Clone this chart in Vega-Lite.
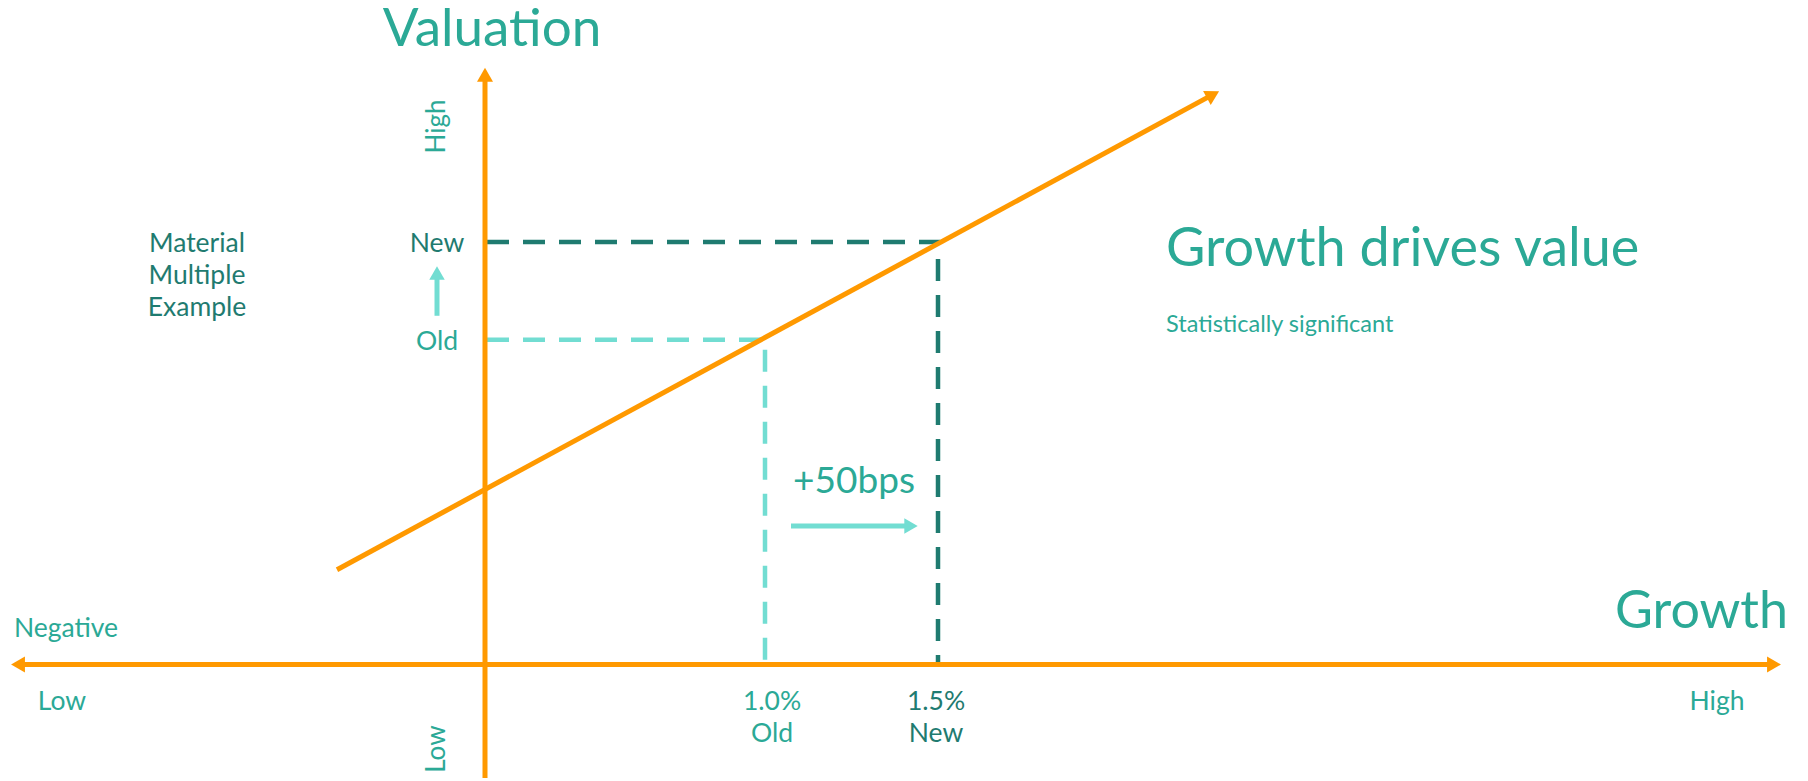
{
  "$schema": "https://vega.github.io/schema/vega-lite/v6.json",
  "width": 1808,
  "height": 781,
  "autosize": {"type": "fit", "contains": "padding"},
  "padding": 0,
  "background": "white",
  "config": {"view": {"stroke": null}},
  "datasets": {
    "solid": [
      {"x": -466, "y": 0, "x2": 1288, "y2": 0},
      {"x": 0, "y": -114, "x2": 0, "y2": 592},
      {"x": -148, "y": 95, "x2": 724, "y2": 570}
    ],
    "axisHeads": [
      {"x": 1289, "y": 0, "dir": "right"},
      {"x": -467, "y": 0, "dir": "left"},
      {"x": 0, "y": 592, "dir": "up"}
    ],
    "diagHead": [{"x": 728, "y": 572}],
    "dashed": [
      {"path": "new", "o": 1, "x": 2, "y": 424},
      {"path": "new", "o": 2, "x": 453, "y": 424},
      {"path": "new", "o": 3, "x": 453, "y": 0},
      {"path": "old", "o": 1, "x": 2, "y": 326},
      {"path": "old", "o": 2, "x": 280, "y": 326},
      {"path": "old", "o": 3, "x": 280, "y": 0}
    ],
    "tealShafts": [
      {"x": 306, "y": 139, "x2": 422, "y2": 139},
      {"x": -48, "y": 350, "x2": -48, "y2": 394}
    ],
    "tealHeads": [
      {"x": 426, "y": 139, "dir": "right"},
      {"x": -48, "y": 393, "dir": "up"}
    ],
    "titleCenter": [{"label": "Valuation", "x": 7, "y": 621}],
    "titleRight": [{"label": "Growth", "x": 1303, "y": 37}],
    "titleLeft": [{"label": "Growth drives value", "x": 681, "y": 400}],
    "subtitle": [{"label": "Statistically significant", "x": 681, "y": 334}],
    "bps": [{"label": "+50bps", "x": 369, "y": 172}],
    "midLabels": [
      {"label": "Negative", "x": -419, "y": 28},
      {"label": "Low", "x": -423, "y": -46},
      {"label": "High", "x": 1232, "y": -46},
      {"label": "1.0%", "x": 287, "y": -46},
      {"label": "Old", "x": 287, "y": -78},
      {"label": "Old", "x": -48, "y": 316}
    ],
    "darkLabels": [
      {"label": "New", "x": -48, "y": 414},
      {"label": "1.5%", "x": 451, "y": -46},
      {"label": "New", "x": 451, "y": -78},
      {"label": "Material", "x": -288, "y": 414},
      {"label": "Multiple", "x": -288, "y": 382},
      {"label": "Example", "x": -288, "y": 350}
    ],
    "rotLabels": [
      {"label": "High", "x": -48, "y": 540},
      {"label": "Low", "x": -48, "y": -85}
    ]
  },
  "encoding": {
    "x": {"field": "x", "type": "quantitative", "scale": {"domain": [-485, 1323], "nice": false, "zero": false}, "axis": null},
    "y": {"field": "y", "type": "quantitative", "scale": {"domain": [-114, 667], "nice": false, "zero": false}, "axis": null}
  },
  "layer": [
    {
      "data": {"name": "dashed"},
      "mark": {"type": "line", "strokeWidth": 4.5, "strokeDash": [22, 14], "strokeCap": "butt"},
      "encoding": {
        "color": {"field": "path", "type": "nominal", "scale": {"domain": ["new", "old"], "range": ["#1F7B70", "#72DDD2"]}, "legend": null},
        "order": {"field": "o", "type": "quantitative"}
      }
    },
    {
      "data": {"name": "solid"},
      "mark": {"type": "rule", "color": "#FF9900", "strokeWidth": 5, "strokeCap": "butt"},
      "encoding": {
        "x2": {"field": "x2"},
        "y2": {"field": "y2"}
      }
    },
    {
      "data": {"name": "axisHeads"},
      "mark": {"type": "point", "filled": true, "opacity": 1, "color": "#FF9900", "size": 256},
      "encoding": {
        "shape": {"field": "dir", "type": "nominal", "scale": {"domain": ["right", "left", "up"], "range": ["triangle-right", "triangle-left", "triangle-up"]}, "legend": null}
      }
    },
    {
      "data": {"name": "diagHead"},
      "mark": {"type": "point", "filled": true, "opacity": 1, "color": "#FF9900", "size": 256, "shape": "triangle-up", "angle": 61.45},
      "encoding": {}
    },
    {
      "data": {"name": "tealShafts"},
      "mark": {"type": "rule", "color": "#72DDD2", "strokeWidth": 5, "strokeCap": "butt"},
      "encoding": {
        "x2": {"field": "x2"},
        "y2": {"field": "y2"}
      }
    },
    {
      "data": {"name": "tealHeads"},
      "mark": {"type": "point", "filled": true, "opacity": 1, "color": "#72DDD2", "size": 240},
      "encoding": {
        "shape": {"field": "dir", "type": "nominal", "scale": {"domain": ["right", "up"], "range": ["triangle-right", "triangle-up"]}, "legend": null}
      }
    },
    {
      "data": {"name": "titleCenter"},
      "mark": {"type": "text", "font": "Lato", "fontSize": 53, "color": "#2BA996", "align": "center", "baseline": "alphabetic"},
      "encoding": {"text": {"field": "label"}}
    },
    {
      "data": {"name": "titleRight"},
      "mark": {"type": "text", "font": "Lato", "fontSize": 52, "color": "#2BA996", "align": "right", "baseline": "alphabetic"},
      "encoding": {"text": {"field": "label"}}
    },
    {
      "data": {"name": "titleLeft"},
      "mark": {"type": "text", "font": "Lato", "fontSize": 54, "color": "#2BA996", "align": "left", "baseline": "alphabetic"},
      "encoding": {"text": {"field": "label"}}
    },
    {
      "data": {"name": "subtitle"},
      "mark": {"type": "text", "font": "Lato", "fontSize": 23.5, "color": "#2BA996", "align": "left", "baseline": "alphabetic"},
      "encoding": {"text": {"field": "label"}}
    },
    {
      "data": {"name": "bps"},
      "mark": {"type": "text", "font": "Lato", "fontSize": 37, "color": "#2BA996", "align": "center", "baseline": "alphabetic"},
      "encoding": {"text": {"field": "label"}}
    },
    {
      "data": {"name": "midLabels"},
      "mark": {"type": "text", "font": "Lato", "fontSize": 26.5, "color": "#2BA996", "align": "center", "baseline": "alphabetic"},
      "encoding": {"text": {"field": "label"}}
    },
    {
      "data": {"name": "darkLabels"},
      "mark": {"type": "text", "font": "Lato", "fontSize": 26.5, "color": "#1F7B70", "align": "center", "baseline": "alphabetic"},
      "encoding": {"text": {"field": "label"}}
    },
    {
      "data": {"name": "rotLabels"},
      "mark": {"type": "text", "font": "Lato", "fontSize": 26, "color": "#2BA996", "align": "center", "baseline": "middle", "angle": 270},
      "encoding": {"text": {"field": "label"}}
    }
  ]
}
